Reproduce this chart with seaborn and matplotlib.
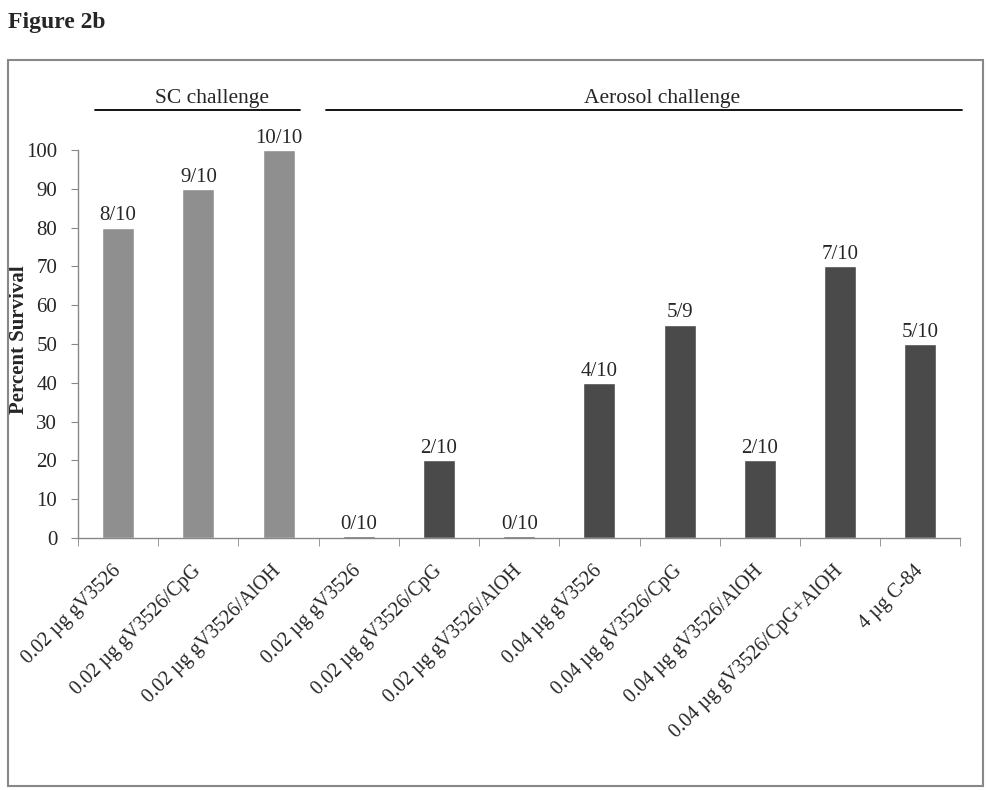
import numpy as np
import pandas as pd
import matplotlib
matplotlib.use('Agg')
import matplotlib.pyplot as plt
import matplotlib.transforms as mtransforms
import seaborn as sns

# data
groups_sc = ['0.02 µg gV3526', '0.02 µg gV3526/CpG', '0.02 µg gV3526/AlOH']
groups_aero = ['0.02 µg gV3526', '0.02 µg gV3526/CpG', '0.02 µg gV3526/AlOH',
               '0.04 µg gV3526', '0.04 µg gV3526/CpG', '0.04 µg gV3526/AlOH',
               '0.04 µg gV3526/CpG+AlOH', '4 µg C-84']
survival_sc = [80, 90, 100]
survival_aero = [0.4, 20, 0.4, 40, 55, 20, 70, 50]   # 0/10 groups drawn as a thin sliver
ratio_sc = ['8/10', '9/10', '10/10']
ratio_aero = ['0/10', '2/10', '0/10', '4/10', '5/9', '2/10', '7/10', '5/10']

sns.set_style('white')
plt.rcParams.update({
    'font.family': ['Liberation Serif', 'DejaVu Serif'],
    'font.size': 14,
    'axes.unicode_minus': False,
})

labels = groups_sc + groups_aero
df = pd.DataFrame({
    'pos': [str(i) for i in range(len(labels))],
    'survival': survival_sc + survival_aero,
    'challenge': ['SC'] * len(groups_sc) + ['Aerosol'] * len(groups_aero),
})

fig = plt.figure(figsize=(9.88, 7.9), dpi=100)
ax = fig.add_axes([0.079, 0.319, 0.893, 0.491])

sns.barplot(data=df, x='pos', y='survival', hue='challenge', dodge=False,
            palette={'SC': '#8f8f8f', 'Aerosol': '#4a4a4a'}, width=0.4,
            legend=False, ax=ax, saturation=1)

for p, txt in zip(ax.patches, ratio_sc + ratio_aero):
    ax.text(p.get_x() + p.get_width() / 2, p.get_height() + 0.6, txt,
            ha='center', va='bottom', fontsize=15)

ax.set_xlim(-0.5, len(labels) - 0.5)
ax.set_ylim(0, 100)
ax.set_yticks(range(0, 101, 10))
ax.set_xticks(range(len(labels)))
ax.set_xticklabels(labels, rotation=45, ha='right', va='center',
                   rotation_mode='anchor', fontsize=14.5)
shift = mtransforms.ScaledTranslation(-6 / 100, 0, fig.dpi_scale_trans)
for lab in ax.get_xticklabels():
    lab.set_transform(lab.get_transform() + shift)
ax.set_xticks(np.arange(-0.5, len(labels), 1), minor=True)
ax.tick_params(axis='x', which='major', length=0, pad=22)
ax.tick_params(axis='x', which='minor', length=6, direction='out', color='#888888', bottom=True)
ax.tick_params(axis='y', length=5, direction='out', color='#888888', left=True,
               labelsize=15, pad=10)
ax.set_xlabel('')
ax.set_ylabel('Percent Survival', fontweight='bold', fontsize=15)
ax.yaxis.set_label_coords(-0.056, 0.51)
for s in ['top', 'right']:
    ax.spines[s].set_visible(False)
for s in ['left', 'bottom']:
    ax.spines[s].set_color('#888888')
    ax.spines[s].set_linewidth(1)

# challenge group headers
trans = mtransforms.blended_transform_factory(ax.transData, ax.transAxes)
ax.plot([-0.29, 2.27], [1.103, 1.103], color='black', lw=1.3, transform=trans, clip_on=False)
ax.plot([2.59, 10.52], [1.103, 1.103], color='black', lw=1.3, transform=trans, clip_on=False)
ax.text(1.17, 1.108, 'SC challenge', ha='center', va='bottom', fontsize=15.5, transform=trans)
ax.text(6.78, 1.108, 'Aerosol challenge', ha='center', va='bottom', fontsize=15.5, transform=trans)

# outer frame and title
fig.patches.append(plt.Rectangle((0.008, 0.005), 0.987, 0.919, transform=fig.transFigure,
                                 fill=False, edgecolor='#888888', lw=1.5))
fig.text(0.008, 0.972, 'Figure 2b', fontweight='bold', fontsize=17, va='center', ha='left')

plt.savefig('out.png', dpi=100)
